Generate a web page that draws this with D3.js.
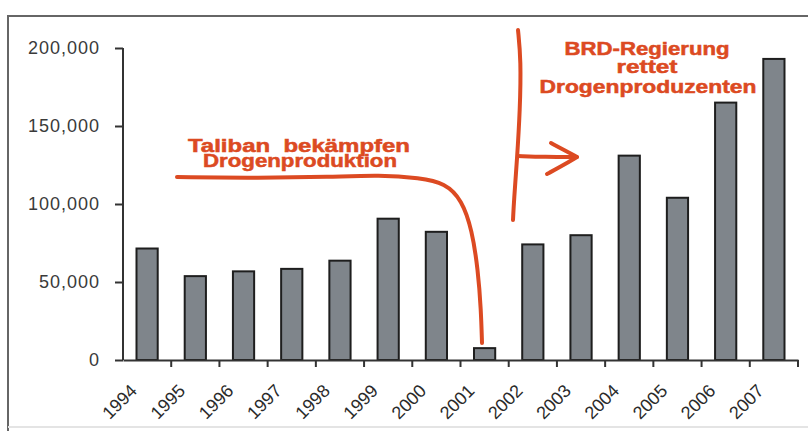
<!DOCTYPE html>
<html>
<head>
<meta charset="utf-8">
<script src="https://cdn.jsdelivr.net/npm/d3@7"></script>
<style>
  body { margin: 0; background: #fff; }
  svg { display: block; }
</style>
</head>
<body>
<div id="chart"></div>
<script>
// Data (Afghanistan opium cultivation, ha)
const years = ["1994", "1995", "1996", "1997", "1998", "1999", "2000",
               "2001", "2002", "2003", "2004", "2005", "2006", "2007"];
const values = [71470, 53759, 56824, 58416, 63674, 90583, 82171,
                7606, 74100, 80000, 131000, 104000, 165000, 193000];
const yTicks = [0, 50000, 100000, 150000, 200000];

const width = 808;
const height = 431;
const margin = { top: 48, right: 10, bottom: 71, left: 123 };
const innerWidth = 798 - margin.left;
const innerHeight = 360 - margin.top;
const red = "#dc4a22";

const data = years.map((y, i) => ({ year: y, value: values[i] }));

const svg = d3.select("#chart")
    .append("svg")
    .attr("width", width)
    .attr("height", height);

// outer frame
svg.append("path")
    .attr("d", "M8,431V16H808")
    .attr("fill", "none")
    .attr("stroke", "#666")
    .attr("stroke-width", 2);
svg.append("line")
    .attr("x1", 8).attr("x2", 808)
    .attr("y1", 427).attr("y2", 427)
    .attr("stroke", "#e4e4e4")
    .attr("stroke-width", 2);

const innerChart = svg.append("g")
    .attr("transform", `translate(${margin.left},${margin.top})`);

// scales
const xScale = d3.scaleBand()
    .domain(years)
    .range([0, innerWidth])
    .paddingInner(0.56)
    .paddingOuter(0.28);

const yScale = d3.scaleLinear()
    .domain([0, 200000])
    .range([innerHeight, 0]);

// bars
innerChart.selectAll("rect.bar")
    .data(data)
    .join("rect")
    .attr("class", "bar")
    .attr("x", d => xScale(d.year))
    .attr("y", d => yScale(d.value))
    .attr("width", xScale.bandwidth())
    .attr("height", d => innerHeight - yScale(d.value))
    .attr("fill", "#7f858b")
    .attr("stroke", "#1e1e1e")
    .attr("stroke-width", 2);

// y axis
const leftAxis = d3.axisLeft(yScale)
    .tickValues(yTicks)
    .tickFormat(d3.format(","))
    .tickSize(8)
    .tickPadding(15);

const yAxis = innerChart.append("g").call(leftAxis);
yAxis.select(".domain").attr("stroke", "#333").attr("stroke-width", 2)
    .attr("d", `M0,0V${innerHeight}`);
yAxis.selectAll(".tick line").attr("stroke", "#333").attr("stroke-width", 2);
yAxis.selectAll(".tick text")
    .attr("fill", "#3a3a3a")
    .style("font-family", "'Liberation Sans', Arial, sans-serif")
    .style("font-size", "18px")
    .style("letter-spacing", "1px");

// x axis (labels at band centres)
const bottomAxis = d3.axisBottom(xScale).tickSize(0);
const xAxis = innerChart.append("g")
    .attr("transform", `translate(0,${innerHeight})`)
    .call(bottomAxis);
xAxis.select(".domain").attr("stroke", "#333").attr("stroke-width", 2);
xAxis.selectAll(".tick text")
    .attr("x", 0).attr("y", 0).attr("dy", 0)
    .attr("transform", "translate(-9,32) rotate(-45)")
    .attr("text-anchor", "end")
    .attr("fill", "#2a2a2a")
    .style("font-family", "'Liberation Sans', Arial, sans-serif")
    .style("font-size", "18px");

// tick marks at band boundaries
const bounds = d3.range(1, years.length + 1).map(i => i * xScale.step());
xAxis.selectAll("line.bound")
    .data(bounds)
    .join("line")
    .attr("class", "bound")
    .attr("x1", d => d).attr("x2", d => d)
    .attr("y1", 0).attr("y2", 7)
    .attr("stroke", "#333")
    .attr("stroke-width", 2);

// hand-drawn annotations
const annot = svg.append("g");
const line = d3.line().curve(d3.curveBasis);

const textStyle = sel => sel
    .attr("fill", red)
    .attr("stroke", red)
    .attr("stroke-width", 0.5)
    .attr("font-weight", "bold")
    .style("font-family", "'Liberation Sans', Arial, sans-serif")
    .style("font-size", "18px")
    .style("white-space", "pre")
    .attr("lengthAdjust", "spacingAndGlyphs");

const leftText = [
    { t: "Taliban  bekämpfen", x: 299, y: 152, w: 222 },
    { t: "Drogenproduktion", x: 300, y: 167, w: 194 }
];
const rightText = [
    { t: "BRD-Regierung", x: 647, y: 55, w: 165 },
    { t: "rettet", x: 647, y: 73, w: 61 },
    { t: "Drogenproduzenten", x: 648, y: 93, w: 217 }
];
annot.selectAll("text.lbl")
    .data(leftText.concat(rightText))
    .join("text")
    .attr("class", "lbl")
    .attr("x", d => d.x).attr("y", d => d.y)
    .attr("text-anchor", "middle")
    .attr("textLength", d => d.w)
    .text(d => d.t)
    .call(textStyle);

const paths = [
    [[177, 177], [260, 178], [330, 177], [380, 175], [420, 178], [445, 183],
     [462, 200], [472, 230], [478, 270], [481, 310], [482, 343]],
    [[518, 30], [521, 60], [520, 110], [517, 160], [514, 200], [513, 220]],
    [[518, 156], [545, 157], [576, 157]],
    [[551, 143], [564, 150], [577, 157]],
    [[577, 157], [562, 166], [547, 174]]
];
annot.selectAll("path.mark")
    .data(paths)
    .join("path")
    .attr("class", "mark")
    .attr("d", d => line(d))
    .attr("fill", "none")
    .attr("stroke", red)
    .attr("stroke-width", 4)
    .attr("stroke-linecap", "round");
</script>
</body>
</html>
